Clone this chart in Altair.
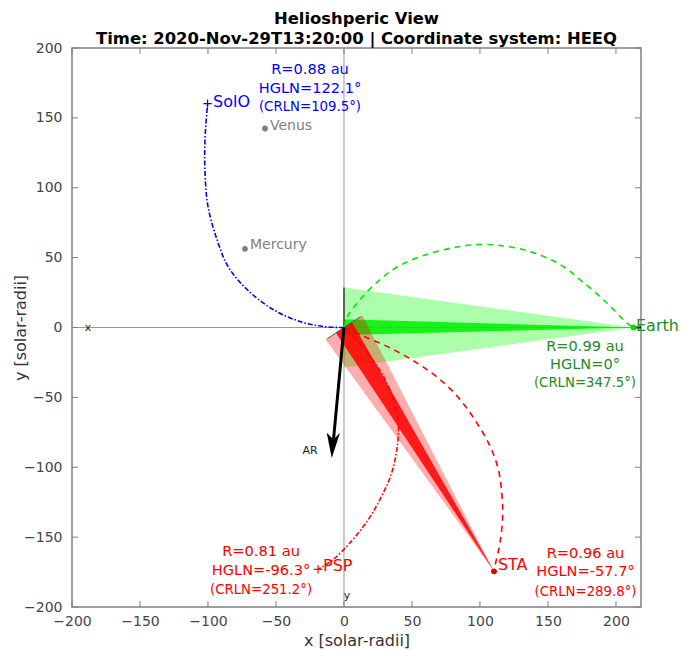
import altair as alt
import pandas as pd

# ---------------- axes ----------------
X_DOMAIN = [-200, 218.4]
Y_DOMAIN = [-200, 200]
TICKS = [-200, -150, -100, -50, 0, 50, 100, 150, 200]
TITLE_LINES = ["Helioshperic View",
               "Time: 2020-Nov-29T13:20:00 | Coordinate system: HEEQ"]

# ---------------- Parker spirals (solar radii) ----------------
solo_sx = [0, -1.5, -15.4, -32.4, -52.2, -71.3, -85.3, -93.4, -100.0, -102.2, -102.2, -100.3]
solo_sy = [0, 0.0, 0.7, 4.3, 12.9, 27.2, 43.7, 63.0, 86.6, 110.9, 134.6, 160.2]

earth_sx = [0, 2.0, 11.8, 26.5, 41.2, 63.2, 85.3, 100.0, 114.7, 136.8, 158.8, 173.5, 193.2, 207.9, 212.9]
earth_sy = [0, 6.9, 20.0, 34.3, 44.4, 53.0, 58.0, 59.4, 58.7, 54.4, 45.1, 34.3, 17.7, 3.4, 0.0]

sta_sx = [0, 14.2, 33.8, 53.5, 70.6, 85.3, 97.6, 107.4, 113.5, 116.0, 116.7, 114.7, 111.0, 110.3]
sta_sy = [0, -6.2, -14.5, -25.3, -37.2, -51.5, -68.2, -84.9, -101.6, -118.3, -135.0, -154.1, -170.8, -174.5]

psp_sx = [0, 9.3, 19.1, 28.9, 36.3, 39.9, 39.2, 35.1, 27.7, 17.9, 4.4, -7.9, -15.2, -19.1]
psp_sy = [0, -8.6, -20.5, -34.8, -51.5, -68.2, -84.9, -104.0, -120.7, -137.4, -154.1, -166.0, -170.8, -173.1]

# ---------------- field-of-view cones ----------------
earth_cone_x = [0, 212.9, 0]
earth_cone_y = [28.6, 0, -28.6]
earth_band_x = [0, 212.9, 0]
earth_band_y = [5.9, 0, -5.4]
sta_cone_x = [-13.5, 110.3, 13.5]
sta_cone_y = [-8.5, -174.5, 8.5]
sta_band_x = [-6.0, 110.3, 6.0]
sta_band_y = [-3.8, -174.5, 3.8]
outline_x = [-12.3, 0, 12.3]
outline_y = [-8.1, 0, 7.8]
edge_x = [0, 0]
edge_y = [0, 28.6]

# ---------------- AR arrow ----------------
ar_shaft_x = [0, -7.7]
ar_shaft_y = [0, -80.1]
ar_head_x = [-9.0, -12.7, -7.7, -2.9]
ar_head_y = [-93.3, -75.3, -80.1, -75.3]

# ---------------- bodies ----------------
plus_x = [-100.3, -19.1]
plus_y = [160.2, -173.1]
plus_c = ["#0000ff", "#ff0000"]

dot_x = [-58.1, -72.8, 212.9, 110.3]
dot_y = [142.4, 56.3, 0.0, -174.5]
dot_c = ["#7f7f7f", "#7f7f7f", "#00dd00", "#e00000"]

earth_mark_x = [212.9, 218.4]
earth_mark_y = [0, 0]

# ---------------- labels ----------------
name_text = ["SolO", "Earth", "STA", "PSP", "Venus", "Mercury"]
name_x = [-96.3, 214.7, 113.2, -15.4, -54.4, -69.1]
name_y = [161.2, 1.4, -170.3, -171.0, 144.5, 58.9]
name_c = ["#0000ff", "#228b22", "#ff0000", "#ff0000", "#808080", "#808080"]
name_s = [16, 16, 16, 16, 14, 14]

info_text = ["R=0.88 au", "HGLN=122.1°", "(CRLN=109.5°)",
             "R=0.99 au", "HGLN=0°", "(CRLN=347.5°)",
             "R=0.96 au", "HGLN=-57.7°", "(CRLN=289.8°)",
             "R=0.81 au", "HGLN=-96.3°", "(CRLN=251.2°)"]
info_x = [-25.0, -25.0, -25.0, 177.2, 177.2, 177.2, 177.6, 177.6, 177.6, -61.0, -61.0, -61.0]
info_y = [184.6, 171.0, 158.1, -13.6, -26.5, -39.4, -162.4, -175.3, -189.6, -160.3, -173.9, -187.5]
info_c = ["#0000ff"] * 3 + ["#228b22"] * 3 + ["#ff0000"] * 6
info_s = [14.6, 14.6, 13.3, 14.6, 14.6, 13.3, 14.6, 14.6, 13.3, 14.6, 14.6, 13.3]

small_text = ["x", "y", "AR"]
small_x = [-188.2, 2.2, -25.0]
small_y = [-0.7, -191.8, -88.7]

# ---------------- chart ----------------
W, H = 569, 559
xs = alt.Scale(domain=X_DOMAIN, nice=False, zero=False)
ys = alt.Scale(domain=Y_DOMAIN, nice=False, zero=False)
x_axis = alt.Axis(values=TICKS, title="x [solar-radii]", ticks=False, domain=False, grid=False,
                  labelFontSize=14, labelColor="#444444", labelPadding=7, labelFlush=False,
                  labelOverlap=False, format="d",
                  titleFontSize=16, titleFontWeight="normal", titleColor="#333333",
                  titleX=W / 2, titleY=33, titleBaseline="middle", titleAlign="center")
y_axis = alt.Axis(values=TICKS, title="y [solar-radii]", ticks=False, domain=False, grid=False,
                  labelFontSize=14, labelColor="#444444", labelPadding=10, labelFlush=False,
                  labelOverlap=False, format="d",
                  titleFontSize=16, titleFontWeight="normal", titleColor="#333333",
                  titleX=-52, titleY=H / 2, titleAngle=-90, titleBaseline="middle",
                  titleAlign="center")


def X():
    return alt.X("x:Q", scale=xs, axis=x_axis)


def Y():
    return alt.Y("y:Q", scale=ys, axis=y_axis)


def frame(xv, yv):
    return pd.DataFrame({"x": xv, "y": yv, "i": list(range(len(xv)))})


def poly(xv, yv, color, op):
    return alt.Chart(frame(xv, yv)).mark_line(
        fill=color, fillOpacity=op, strokeOpacity=0, interpolate="linear-closed"
    ).encode(x=X(), y=Y(), order=alt.Order("i:Q"))


def path(xv, yv, color, width, dash=None, interp="linear"):
    kw = dict(color=color, strokeWidth=width, interpolate=interp)
    if dash is not None:
        kw["strokeDash"] = dash
    return alt.Chart(frame(xv, yv)).mark_line(**kw).encode(x=X(), y=Y(), order=alt.Order("i:Q"))


# zero lines
zero_v = alt.Chart(pd.DataFrame({"x": [0]})).mark_rule(color="#999999", strokeWidth=1).encode(
    x=X(), y=alt.value(0), y2=alt.value(H))
zero_h = alt.Chart(pd.DataFrame({"y": [0]})).mark_rule(color="#999999", strokeWidth=1).encode(
    y=Y(), x=alt.value(0), x2=alt.value(W))

# inward ticks on all four sides
tx = pd.DataFrame({"x": TICKS})
ty = pd.DataFrame({"y": TICKS})
tick_style = dict(color="#808080", strokeWidth=1)
ticks = [
    alt.Chart(tx).mark_rule(**tick_style).encode(x=X(), y=alt.value(H), y2=alt.value(H - 6)),
    alt.Chart(tx).mark_rule(**tick_style).encode(x=X(), y=alt.value(0), y2=alt.value(6)),
    alt.Chart(ty).mark_rule(**tick_style).encode(y=Y(), x=alt.value(0), x2=alt.value(6)),
    alt.Chart(ty).mark_rule(**tick_style).encode(y=Y(), x=alt.value(W), x2=alt.value(W - 6)),
]

cones = [
    poly(earth_cone_x, earth_cone_y, "#00ff00", 0.33),
    poly(earth_band_x, earth_band_y, "#00ee00", 0.85),
    poly(sta_cone_x, sta_cone_y, "#ff0000", 0.32),
    poly(sta_band_x, sta_band_y, "#ff0000", 0.85),
    path(outline_x, outline_y, "#555555", 1),
    path(edge_x, edge_y, "#444444", 1.5),
]

spirals = [
    path(solo_sx, solo_sy, "#0000ff", 1.6, [5, 2, 1.5, 2], "catmull-rom"),
    path(earth_sx, earth_sy, "#00e600", 1.6, [6, 5], "catmull-rom"),
    path(sta_sx, sta_sy, "#ff0000", 1.6, [6, 5], "catmull-rom"),
    path(psp_sx, psp_sy, "#ff0000", 1.6, [5, 2, 1.5, 2], "catmull-rom"),
]

arrow = [
    path(ar_shaft_x, ar_shaft_y, "black", 3),
    poly(ar_head_x, ar_head_y, "black", 1.0),
]

plus_df = pd.DataFrame({"x": plus_x, "y": plus_y, "c": plus_c})
plus = alt.Chart(plus_df).mark_point(
    shape="M-1,0L1,0M0,-1L0,1", filled=False, size=70, strokeWidth=1.2, opacity=1
).encode(x=X(), y=Y(), color=alt.Color("c:N", scale=None))

dot_df = pd.DataFrame({"x": dot_x, "y": dot_y, "c": dot_c})
dots = alt.Chart(dot_df).mark_circle(size=34, opacity=1).encode(
    x=X(), y=Y(), color=alt.Color("c:N", scale=None))

earth_mark = path(earth_mark_x, earth_mark_y, "black", 2)

name_df = pd.DataFrame({"x": name_x, "y": name_y, "t": name_text, "c": name_c, "s": name_s})
names = alt.Chart(name_df).mark_text(align="left", baseline="middle").encode(
    x=X(), y=Y(), text="t:N", color=alt.Color("c:N", scale=None), size=alt.Size("s:Q", scale=None))

info_df = pd.DataFrame({"x": info_x, "y": info_y, "t": info_text, "c": info_c, "s": info_s})
infos = alt.Chart(info_df).mark_text(align="center", baseline="middle").encode(
    x=X(), y=Y(), text="t:N", color=alt.Color("c:N", scale=None), size=alt.Size("s:Q", scale=None))

small_df = pd.DataFrame({"x": small_x, "y": small_y, "t": small_text})
smalls = alt.Chart(small_df).mark_text(align="center", baseline="middle", fontSize=11,
                                       color="#222222").encode(x=X(), y=Y(), text="t:N")

layers = [zero_v, zero_h] + ticks + cones + spirals + arrow + [earth_mark, dots, plus, names, infos, smalls]

chart = alt.layer(*layers).properties(
    width=W, height=H,
    title=alt.TitleParams(text=TITLE_LINES, fontSize=16.4, fontWeight="bold", color="black",
                          anchor="middle", offset=6, dy=12, lineHeight=20),
    autosize=alt.AutoSizeParams(type="none"),
    padding={"left": 64, "top": 40, "right": 46, "bottom": 42},
).configure(font="DejaVu Sans").configure_view(stroke="#808080", strokeWidth=1.5)

chart.save("out.html", embed_options={"renderer": "svg", "actions": False})
